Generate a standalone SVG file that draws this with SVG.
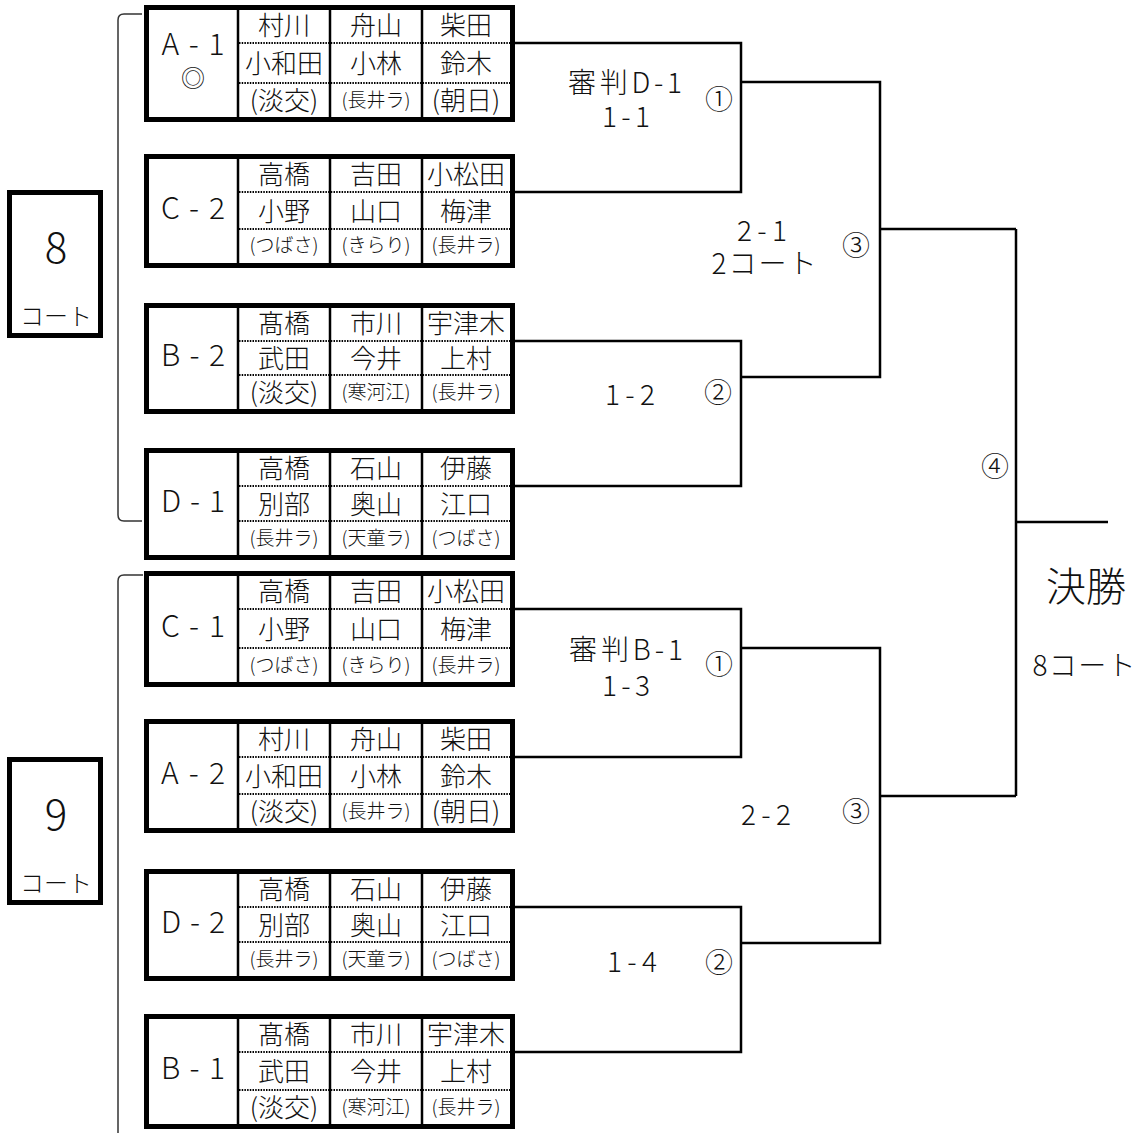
<svg xmlns="http://www.w3.org/2000/svg" width="1141" height="1133" viewBox="0 0 1141 1133">
<style>
text{font-family:"Noto Sans CJK JP","Noto Sans",sans-serif;font-weight:300;fill:#111;text-anchor:middle}
.box{fill:#fff;stroke:#000;stroke-width:5}
.col{stroke:#000;stroke-width:2.5}
.dot{stroke:#000;stroke-width:2;stroke-dasharray:1.5 1.2}
.n{font-size:26px}
.s{font-size:19px}
.lab{font-size:30px}
.m{font-size:28px}
.conn path{fill:none;stroke:#000;stroke-width:2.5}
.br{fill:none;stroke:#333;stroke-width:1.5}
</style>
<g id="brackets">
<path class="br" d="M142,14 H124 Q118,14 118,20 V515 Q118,521 124,521 H142"/>
<path class="br" d="M143,575 H124 Q118,575 118,581 V1133"/>
</g>
<g id="court8">
<rect class="box" x="9.5" y="192.5" width="91" height="143"/>
<text x="56" y="263" style="font-size:42px">8</text>
<text x="56" y="325" style="font-size:24px">コート</text>
</g>
<g id="court9">
<rect class="box" x="9.5" y="759.5" width="91" height="143"/>
<text x="56" y="830" style="font-size:42px">9</text>
<text x="56" y="892" style="font-size:24px">コート</text>
</g>

<g id="A-1">
<rect class="box" x="146.5" y="7.5" width="366" height="112"/>
<path class="col" d="M238,10V117M330,10V117M422,10V117"/>
<path class="dot" d="M239,43H510M239,83H510"/>
<text class="lab" x="193" y="55" textLength="63">A-1</text>
<text x="193" y="87" style="font-size:24px">◎</text>
<text class="n" x="284" y="35">村川</text><text class="n" x="376" y="35">舟山</text><text class="n" x="466" y="35">柴田</text>
<text class="n" x="284" y="73">小和田</text><text class="n" x="376" y="73">小林</text><text class="n" x="466" y="73">鈴木</text>
<text class="n" x="284" y="110">(淡交)</text><text class="s" x="376" y="107">(長井ラ)</text><text class="n" x="466" y="110">(朝日)</text>
</g>

<g id="C-2">
<rect class="box" x="146.5" y="156.5" width="366" height="109"/>
<path class="col" d="M238,159V263M330,159V263M422,159V263"/>
<path class="dot" d="M239,192H510M239,229H510"/>
<text class="lab" x="193" y="218.5" textLength="64">C-2</text>
<text class="n" x="284" y="184">高橋</text><text class="n" x="376" y="184">吉田</text><text class="n" x="466" y="184">小松田</text>
<text class="n" x="284" y="220.5">小野</text><text class="n" x="376" y="220.5">山口</text><text class="n" x="466" y="220.5">梅津</text>
<text class="s" x="284" y="252">(つばさ)</text><text class="s" x="376" y="252">(きらり)</text><text class="s" x="466" y="252">(長井ラ)</text>
</g>

<g id="B-2">
<rect class="box" x="146.5" y="305.5" width="366" height="106"/>
<path class="col" d="M238,308V409M330,308V409M422,308V409"/>
<path class="dot" d="M239,341H510M239,375H510"/>
<text class="lab" x="193" y="366" textLength="64">B-2</text>
<text class="n" x="284" y="333">髙橋</text><text class="n" x="376" y="333">市川</text><text class="n" x="466" y="333">宇津木</text>
<text class="n" x="284" y="368">武田</text><text class="n" x="376" y="368">今井</text><text class="n" x="466" y="368">上村</text>
<text class="n" x="284" y="402">(淡交)</text><text class="s" x="376" y="399">(寒河江)</text><text class="s" x="466" y="399">(長井ラ)</text>
</g>

<g id="D-1">
<rect class="box" x="146.5" y="450.5" width="366" height="107"/>
<path class="col" d="M238,453V555M330,453V555M422,453V555"/>
<path class="dot" d="M239,486H510M239,521H510"/>
<text class="lab" x="193" y="511.5" textLength="64">D-1</text>
<text class="n" x="284" y="478">高橋</text><text class="n" x="376" y="478">石山</text><text class="n" x="466" y="478">伊藤</text>
<text class="n" x="284" y="513.5">別部</text><text class="n" x="376" y="513.5">奥山</text><text class="n" x="466" y="513.5">江口</text>
<text class="s" x="284" y="545">(長井ラ)</text><text class="s" x="376" y="545">(天童ラ)</text><text class="s" x="466" y="545">(つばさ)</text>
</g>

<g id="C-1">
<rect class="box" x="146.5" y="573.5" width="366" height="111"/>
<path class="col" d="M238,576V682M330,576V682M422,576V682"/>
<path class="dot" d="M239,609H510M239,648H510"/>
<text class="lab" x="193" y="636.5" textLength="64">C-1</text>
<text class="n" x="284" y="601">高橋</text><text class="n" x="376" y="601">吉田</text><text class="n" x="466" y="601">小松田</text>
<text class="n" x="284" y="638.5">小野</text><text class="n" x="376" y="638.5">山口</text><text class="n" x="466" y="638.5">梅津</text>
<text class="s" x="284" y="672">(つばさ)</text><text class="s" x="376" y="672">(きらり)</text><text class="s" x="466" y="672">(長井ラ)</text>
</g>

<g id="A-2">
<rect class="box" x="146.5" y="721.5" width="366" height="109"/>
<path class="col" d="M238,724V828M330,724V828M422,724V828"/>
<path class="dot" d="M239,757H510M239,794H510"/>
<text class="lab" x="193" y="783.5" textLength="64">A-2</text>
<text class="n" x="284" y="749">村川</text><text class="n" x="376" y="749">舟山</text><text class="n" x="466" y="749">柴田</text>
<text class="n" x="284" y="785.5">小和田</text><text class="n" x="376" y="785.5">小林</text><text class="n" x="466" y="785.5">鈴木</text>
<text class="n" x="284" y="821">(淡交)</text><text class="s" x="376" y="818">(長井ラ)</text><text class="n" x="466" y="821">(朝日)</text>
</g>

<g id="D-2">
<rect class="box" x="146.5" y="871.5" width="366" height="107"/>
<path class="col" d="M238,874V976M330,874V976M422,874V976"/>
<path class="dot" d="M239,907H510M239,942H510"/>
<text class="lab" x="193" y="932.5" textLength="64">D-2</text>
<text class="n" x="284" y="899">高橋</text><text class="n" x="376" y="899">石山</text><text class="n" x="466" y="899">伊藤</text>
<text class="n" x="284" y="934.5">別部</text><text class="n" x="376" y="934.5">奥山</text><text class="n" x="466" y="934.5">江口</text>
<text class="s" x="284" y="966">(長井ラ)</text><text class="s" x="376" y="966">(天童ラ)</text><text class="s" x="466" y="966">(つばさ)</text>
</g>

<g id="B-1">
<rect class="box" x="146.5" y="1016.5" width="366" height="110"/>
<path class="col" d="M238,1019V1124M330,1019V1124M422,1019V1124"/>
<path class="dot" d="M239,1052H510M239,1090H510"/>
<text class="lab" x="193" y="1079" textLength="64">B-1</text>
<text class="n" x="284" y="1044">髙橋</text><text class="n" x="376" y="1044">市川</text><text class="n" x="466" y="1044">宇津木</text>
<text class="n" x="284" y="1081">武田</text><text class="n" x="376" y="1081">今井</text><text class="n" x="466" y="1081">上村</text>
<text class="n" x="284" y="1117">(淡交)</text><text class="s" x="376" y="1114">(寒河江)</text><text class="s" x="466" y="1114">(長井ラ)</text>
</g>

<g id="connectors" class="conn">
<path d="M515,43H741V192H515"/>
<path d="M741,82H880V377H741"/>
<path d="M515,341H741V486H515"/>
<path d="M880,229H1016"/>
<path d="M515,609H741V757H515"/>
<path d="M741,648H880V943H741"/>
<path d="M515,907H741V1052H515"/>
<path d="M880,796H1016"/>
<path d="M1016,229V796"/>
<path d="M1016,522H1108"/>
</g>

<g id="labels">
<text class="m" x="625" y="93" textLength="114">審判D-1</text>
<text class="m" x="626" y="127" textLength="48">1-1</text>
<text class="m" x="719" y="110">①</text>
<text class="m" x="762" y="241" textLength="50">2-1</text>
<text class="m" x="764" y="274" textLength="105">2コート</text>
<text class="m" x="856" y="256">③</text>
<text class="m" x="630" y="405" textLength="50">1-2</text>
<text class="m" x="718" y="403">②</text>
<text class="m" x="995" y="477">④</text>
<text class="m" x="626" y="660" textLength="114">審判B-1</text>
<text class="m" x="626" y="696" textLength="48">1-3</text>
<text class="m" x="719" y="675">①</text>
<text class="m" x="766" y="825" textLength="50">2-2</text>
<text class="m" x="856" y="822">③</text>
<text class="m" x="632" y="972" textLength="50">1-4</text>
<text class="m" x="719" y="973">②</text>
<text x="1086" y="601" style="font-size:40px">決勝</text>
<text class="m" x="1084" y="676" textLength="103">8コート</text>
</g>
</svg>
